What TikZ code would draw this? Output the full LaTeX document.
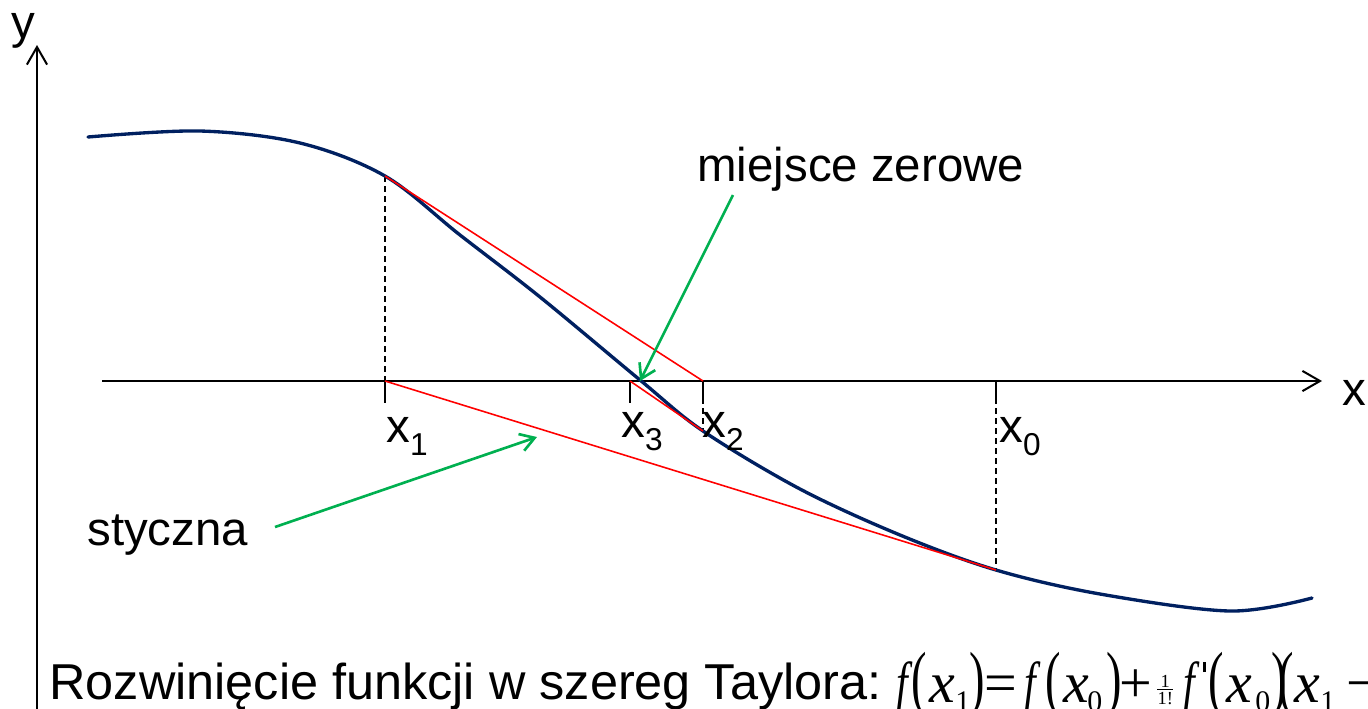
\documentclass[tikz,border=0pt]{standalone}
\usepackage{fontspec}
\setmainfont{Liberation Sans}
\newfontfamily\tnr{Liberation Serif}
\usepackage{graphicx}
\usetikzlibrary{arrows.meta}
\definecolor{curvenavy}{RGB}{0,32,96}
\definecolor{tanred}{RGB}{255,0,0}
\definecolor{arrowgreen}{RGB}{0,176,80}
\newcommand\xlab[1]{\fontsize{27}{27}\selectfont x\raisebox{-7.4pt}{\fontsize{18}{18}\selectfont #1}}
\newcommand\fpar[1]{\scalebox{0.8}[1.25]{#1}}
\newcommand\fit{\scalebox{0.72}[1]{\itshape f}}
\newcommand\frc{\vbox{\hbox to 9pt{\hss\fontsize{10.5}{10.5}\selectfont 1\hss}\kern0.8pt\hrule height 0.5pt\kern1.2pt\hbox to 9pt{\hss\fontsize{10.5}{10.5}\selectfont 1!\hss}}}
\begin{document}
\begin{tikzpicture}[x=0.02cm,y=-0.02cm,
  axis/.style={draw=black, line width=1.15pt},
  axisarrow/.style={-{Straight Barb[length=10pt,width=11.5pt,line width=1.15pt]}},
  curvestyle/.style={draw=curvenavy, line width=1.9pt, line cap=round},
  tanline/.style={draw=tanred, line width=0.9pt},
  tickline/.style={draw=black, line width=1pt},
  dashline/.style={draw=black, line width=0.85pt, dash pattern=on 3.4pt off 2.3pt},
  greenarrow/.style={draw=arrowgreen, line width=1.5pt, -{Straight Barb[length=8pt,width=10pt,line width=1.5pt]}},
  txt/.style={inner sep=0pt, anchor=base west, font=\fontsize{27}{27}\selectfont},
  lab/.style={inner sep=0pt, anchor=base west},
  fm/.style={inner sep=0pt, anchor=base west, font=\tnr\fontsize{33}{33}\selectfont},
  fs/.style={inner sep=0pt, anchor=base west, font=\tnr\fontsize{17}{17}\selectfont}
]
\useasboundingbox (0,0) rectangle (1368,708);

% axes
\coordinate (YB) at (37,712);
\coordinate (YT) at (37,45);
\coordinate (XL) at (102,381);
\coordinate (XR) at (1322,381);
\draw[axis,axisarrow] (YB) -- (YT);
\draw[axis,axisarrow] (XL) -- (XR);
\node[txt] (ylab) at (11,38) {y};
\node[txt] (xlab) at (1342,405) {x};

% points
\coordinate (C1) at (385,176);
\coordinate (C2) at (703,431);
\coordinate (C0) at (996,570);
\coordinate (X1) at (385,381);
\coordinate (X2) at (703,381);
\coordinate (X3) at (630,381);
\coordinate (X0) at (996,381);
\coordinate (Z) at (640,381);
\coordinate (T1) at (385,403);
\coordinate (T2) at (703,398);
\coordinate (T3) at (630,403);
\coordinate (T0) at (996,398);

% ticks and dashed lines
\draw[tickline] (X1) -- (T1);
\draw[tickline] (X2) -- (T2);
\draw[tickline] (X3) -- (T3);
\draw[tickline] (X0) -- (T0);
\draw[dashline] (C1) -- (X1);
\draw[dashline] (T2) -- (C2);
\draw[dashline] (T0) -- (C0);

% curve
\draw[curvestyle] plot[smooth, tension=0.55] coordinates {
 (88,137) (200,131) (300,143) (385,176) (460,235) (540,297) (640,380)
 (703,431) (800,489) (900,535) (996,570) (1100,594) (1230,611) (1312,598)};

% tangents
\draw[tanline] (C0) -- (X1);
\draw[tanline] (C1) -- (X2);
\draw[tanline] (C2) -- (X3);

% labels on axis
\node[lab] (lx1) at (386,442) {\xlab{1}};
\node[lab] (lx3) at (621,437) {\xlab{3}};
\node[lab] (lx2) at (702,437) {\xlab{2}};
\node[lab] (lx0) at (999,442) {\xlab{0}};

% annotations
\node[txt] (mz) at (697,181) {miejsce zerowe};
\node[txt] (st) at (87,545) {styczna};
\coordinate (G1s) at (733,195);
\coordinate (G2s) at (275,527);
\coordinate (G2e) at (537,437);
\draw[greenarrow] (G1s) -- (Z);
\draw[greenarrow] (G2s) -- (G2e);

% bottom text
\node[txt, font=\fontsize{28.7}{28.7}\selectfont] (rt) at (49,699) {Rozwinięcie funkcji w szereg Taylora:};

% formula, piece by piece
\node[fm] (fa) at (896,702) {\fit};
\node[fm] (pa) at (911,702) {\fpar{(}};
\node[fm] (xa) at (929,702) {\itshape x};
\node[fs] (sa) at (955,711) {1};
\node[fm] (qa) at (969,702) {\fpar{)}};
\node[fm] (eq) at (984,702) {=};
\node[fm] (fb) at (1024,702) {\fit};
\node[fm] (pb) at (1045,702) {\fpar{(}};
\node[fm] (xb) at (1063,702) {\itshape x};
\node[fs] (sb) at (1087,711) {0};
\node[fm] (qb) at (1106,702) {\fpar{)}};
\node[fm] (pl) at (1119,702) {+};
\node[fm] (fr) at (1157,704) {\frc};
\node[fm] (fc) at (1183,702) {\fit};
\node[fm] (pr) at (1203,702) {\rule[17pt]{1.3pt}{5.8pt}};
\node[fm] (pc) at (1208,702) {\fpar{(}};
\node[fm] (xc) at (1226,702) {\itshape x};
\node[fs] (sc) at (1255,711) {0};
\node[fm] (qc) at (1271,702) {\fpar{)}};
\node[fm] (pd) at (1278,702) {\fpar{(}};
\node[fm] (xd) at (1294,702) {\itshape x};
\node[fs] (sd) at (1320,711) {1};
\node[fm] (mi) at (1346,702) {−};
\end{tikzpicture}
\end{document}
